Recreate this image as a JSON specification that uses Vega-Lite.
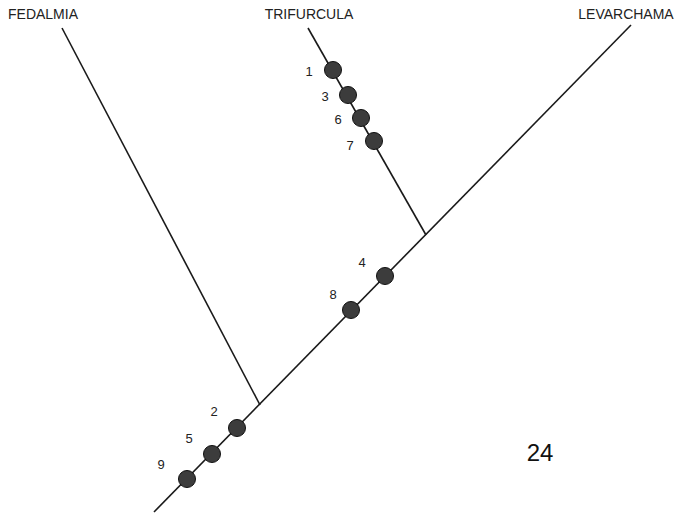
{
  "$schema": "https://vega.github.io/schema/vega-lite/v6.json",
  "width": 689,
  "height": 518,
  "autosize": {"type": "none"},
  "padding": 0,
  "background": "white",
  "config": {"view": {"stroke": null}},
  "datasets": {
    "branches": [
      {"branch": "main", "x": 154, "y": 512, "x2": 631, "y2": 25},
      {"branch": "Fedalmia", "x": 62, "y": 28, "x2": 260, "y2": 405},
      {"branch": "Trifurcula", "x": 308, "y": 28, "x2": 426, "y2": 235}
    ],
    "characters": [
      {"char": "1", "x": 333, "y": 70, "lx": 309, "ly": 72},
      {"char": "3", "x": 348, "y": 95, "lx": 325, "ly": 97},
      {"char": "6", "x": 361, "y": 118, "lx": 338, "ly": 120},
      {"char": "7", "x": 374, "y": 141, "lx": 350, "ly": 146},
      {"char": "4", "x": 385, "y": 276, "lx": 362, "ly": 263},
      {"char": "8", "x": 351, "y": 310, "lx": 333, "ly": 295},
      {"char": "2", "x": 237, "y": 428, "lx": 214, "ly": 412},
      {"char": "5", "x": 212, "y": 454, "lx": 189, "ly": 439},
      {"char": "9", "x": 187, "y": 479, "lx": 161, "ly": 465}
    ],
    "taxa": [
      {"name": "FEDALMIA", "x": 43, "y": 15},
      {"name": "TRIFURCULA", "x": 309, "y": 15},
      {"name": "LEVARCHAMA", "x": 626, "y": 15}
    ],
    "figure": [{"label": "24", "x": 540, "y": 454}]
  },
  "layer": [
    {
      "data": {"name": "branches"},
      "mark": {"type": "rule", "color": "#1a1a1a", "strokeWidth": 1.6},
      "encoding": {
        "x": {"field": "x", "type": "quantitative", "scale": {"domain": [0, 689], "nice": false, "zero": false}, "axis": null},
        "y": {"field": "y", "type": "quantitative", "scale": {"domain": [0, 518], "nice": false, "zero": false, "reverse": true}, "axis": null},
        "x2": {"field": "x2"},
        "y2": {"field": "y2"}
      }
    },
    {
      "data": {"name": "characters"},
      "mark": {"type": "circle", "size": 290, "color": "#3c3c3c", "opacity": 1, "stroke": "#111", "strokeWidth": 1},
      "encoding": {
        "x": {"field": "x", "type": "quantitative"},
        "y": {"field": "y", "type": "quantitative"}
      }
    },
    {
      "data": {"name": "characters"},
      "mark": {"type": "text", "font": "Liberation Sans", "fontSize": 13, "color": "#222", "baseline": "middle", "align": "center"},
      "encoding": {
        "x": {"field": "lx", "type": "quantitative"},
        "y": {"field": "ly", "type": "quantitative"},
        "text": {"field": "char"}
      }
    },
    {
      "data": {"name": "taxa"},
      "mark": {"type": "text", "font": "Liberation Sans", "fontSize": 14, "color": "#222", "baseline": "middle", "align": "center"},
      "encoding": {
        "x": {"field": "x", "type": "quantitative"},
        "y": {"field": "y", "type": "quantitative"},
        "text": {"field": "name"}
      }
    },
    {
      "data": {"name": "figure"},
      "mark": {"type": "text", "font": "Liberation Sans", "fontSize": 24, "color": "#111", "baseline": "middle", "align": "center"},
      "encoding": {
        "x": {"field": "x", "type": "quantitative"},
        "y": {"field": "y", "type": "quantitative"},
        "text": {"field": "label"}
      }
    }
  ]
}
